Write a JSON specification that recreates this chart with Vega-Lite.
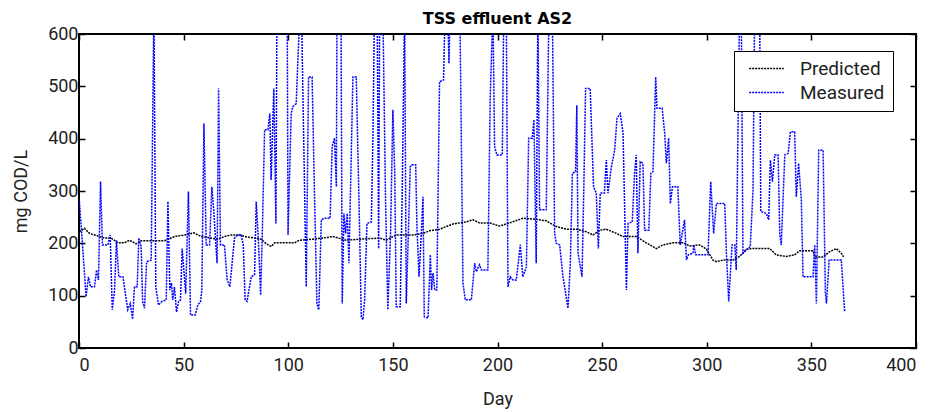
{
  "$schema": "https://vega.github.io/schema/vega-lite/v6.json",
  "width": 837,
  "height": 314,
  "autosize": "none",
  "padding": {"left": 79, "top": 34, "right": 19, "bottom": 64},
  "background": "white",
  "config": {
    "font": "Roboto",
    "view": {"stroke": "black", "strokeWidth": 2},
    "axis": {"labelFont": "Roboto", "titleFont": "Roboto", "labelFontSize": 18, "titleFontSize": 18, "titleFontWeight": "normal", "labelColor": "#222", "titleColor": "#222", "domain": false, "grid": false, "tickColor": "black", "tickSize": -6, "tickWidth": 1.5}
  },
  "title": {"text": "TSS effluent AS2", "font": "DejaVu Sans", "fontSize": 16, "fontWeight": "bold", "color": "black", "offset": -2},
  "datasets": {
    "meas": [
      {"day":0.2,"value":280},{"day":3.4,"value":98},{"day":4.5,"value":136},{"day":5.5,"value":117},{"day":7.4,"value":117},{"day":8.4,"value":149},{"day":9.3,"value":130},{"day":10.3,"value":318},{"day":11.2,"value":197},{"day":13.8,"value":197},{"day":14.9,"value":216},{"day":15.9,"value":73},{"day":17,"value":111},{"day":17.9,"value":206},{"day":19,"value":136},{"day":21,"value":136},{"day":23.3,"value":73},{"day":24.5,"value":85},{"day":25.6,"value":55},{"day":26.5,"value":117},{"day":27.8,"value":117},{"day":28.6,"value":210},{"day":29.7,"value":194},{"day":30.4,"value":89},{"day":31.3,"value":76},{"day":32.3,"value":165},{"day":34.5,"value":168},{"day":35.8,"value":650},{"day":36.7,"value":117},{"day":38,"value":82},{"day":39.6,"value":89},{"day":41.7,"value":92},{"day":42.5,"value":280},{"day":43.4,"value":111},{"day":44.2,"value":124},{"day":44.8,"value":92},{"day":45.6,"value":117},{"day":46.6,"value":69},{"day":47.6,"value":89},{"day":48.5,"value":92},{"day":49.3,"value":190},{"day":51,"value":104},{"day":52.3,"value":299},{"day":53.3,"value":63},{"day":55.5,"value":63},{"day":56.8,"value":82},{"day":58.1,"value":89},{"day":58.7,"value":111},{"day":59.7,"value":429},{"day":60.8,"value":197},{"day":62.4,"value":197},{"day":63.5,"value":308},{"day":64.5,"value":257},{"day":65.4,"value":197},{"day":66,"value":162},{"day":66.7,"value":496},{"day":67.6,"value":197},{"day":69.5,"value":197},{"day":70.8,"value":130},{"day":72.1,"value":117},{"day":74.3,"value":210},{"day":75.9,"value":216},{"day":77.5,"value":216},{"day":78.5,"value":197},{"day":79.4,"value":92},{"day":80.3,"value":89},{"day":82.3,"value":136},{"day":83.9,"value":140},{"day":84.7,"value":280},{"day":85.8,"value":200},{"day":86.8,"value":101},{"day":87.6,"value":219},{"day":88.7,"value":417},{"day":90.3,"value":417},{"day":91.2,"value":448},{"day":91.8,"value":321},{"day":93.1,"value":496},{"day":94.1,"value":238},{"day":94.6,"value":650},{"day":99.5,"value":650},{"day":99.9,"value":216},{"day":101.4,"value":448},{"day":102.2,"value":461},{"day":103.8,"value":467},{"day":104.7,"value":560},{"day":105.7,"value":650},{"day":106.3,"value":650},{"day":108.6,"value":117},{"day":109.7,"value":518},{"day":111.4,"value":518},{"day":112.6,"value":283},{"day":113.7,"value":85},{"day":114.6,"value":73},{"day":115.8,"value":245},{"day":117.4,"value":248},{"day":120,"value":248},{"day":121,"value":385},{"day":122.1,"value":401},{"day":123,"value":308},{"day":123.3,"value":650},{"day":125.2,"value":650},{"day":125.8,"value":85},{"day":126.6,"value":257},{"day":127.4,"value":219},{"day":128.2,"value":257},{"day":129,"value":162},{"day":130.9,"value":518},{"day":132.5,"value":518},{"day":133.8,"value":283},{"day":134.9,"value":60},{"day":135.7,"value":54},{"day":136.5,"value":92},{"day":137.6,"value":238},{"day":139.7,"value":241},{"day":140.5,"value":410},{"day":141.2,"value":650},{"day":142.5,"value":650},{"day":143.2,"value":190},{"day":143.7,"value":650},{"day":145.2,"value":650},{"day":146.5,"value":283},{"day":147.6,"value":73},{"day":148.9,"value":220},{"day":150,"value":455},{"day":150.9,"value":334},{"day":151.6,"value":79},{"day":153.5,"value":79},{"day":154.5,"value":308},{"day":155.6,"value":650},{"day":156.4,"value":85},{"day":157.4,"value":219},{"day":158.3,"value":346},{"day":159,"value":350},{"day":160.9,"value":350},{"day":161.5,"value":232},{"day":162.5,"value":136},{"day":163.6,"value":219},{"day":164.4,"value":289},{"day":165,"value":60},{"day":166.8,"value":57},{"day":167.9,"value":178},{"day":168.5,"value":111},{"day":169.2,"value":143},{"day":170,"value":111},{"day":171,"value":111},{"day":172.3,"value":509},{"day":174.2,"value":512},{"day":175,"value":650},{"day":176.2,"value":650},{"day":176.8,"value":544},{"day":177.4,"value":650},{"day":182,"value":650},{"day":183.5,"value":124},{"day":184.6,"value":92},{"day":187.5,"value":92},{"day":189.1,"value":162},{"day":189.9,"value":146},{"day":191.4,"value":159},{"day":192.3,"value":149},{"day":195.4,"value":149},{"day":196.5,"value":474},{"day":197.8,"value":650},{"day":198.6,"value":385},{"day":199.7,"value":369},{"day":202.3,"value":369},{"day":203,"value":650},{"day":204.2,"value":650},{"day":205,"value":117},{"day":206.1,"value":136},{"day":207.4,"value":130},{"day":209,"value":130},{"day":210.9,"value":197},{"day":212.1,"value":136},{"day":213.8,"value":155},{"day":214.9,"value":401},{"day":216.6,"value":401},{"day":217.4,"value":436},{"day":218.5,"value":162},{"day":219.3,"value":650},{"day":220.1,"value":264},{"day":223.3,"value":264},{"day":224.6,"value":650},{"day":226.2,"value":650},{"day":227.3,"value":219},{"day":228.1,"value":200},{"day":229.7,"value":197},{"day":231.3,"value":136},{"day":233.7,"value":76},{"day":234.8,"value":162},{"day":235.8,"value":334},{"day":237.3,"value":337},{"day":237.9,"value":464},{"day":238.5,"value":181},{"day":239.6,"value":155},{"day":240.4,"value":136},{"day":241.2,"value":296},{"day":242.1,"value":496},{"day":244.3,"value":496},{"day":245.9,"value":308},{"day":247.2,"value":296},{"day":248.2,"value":190},{"day":249.1,"value":296},{"day":251.1,"value":296},{"day":252,"value":359},{"day":252.8,"value":296},{"day":254.4,"value":346},{"day":256,"value":378},{"day":257.1,"value":439},{"day":258.7,"value":448},{"day":260,"value":410},{"day":261.6,"value":111},{"day":262.4,"value":238},{"day":264.4,"value":241},{"day":265.5,"value":334},{"day":266.3,"value":369},{"day":267.1,"value":181},{"day":268.2,"value":356},{"day":269.5,"value":353},{"day":270.3,"value":225},{"day":272.3,"value":225},{"day":273.3,"value":334},{"day":274.3,"value":337},{"day":275.6,"value":518},{"day":276.2,"value":458},{"day":278.7,"value":458},{"day":279.9,"value":410},{"day":280.7,"value":353},{"day":281.8,"value":401},{"day":282.6,"value":276},{"day":283.6,"value":308},{"day":286.2,"value":308},{"day":287.3,"value":197},{"day":289.4,"value":245},{"day":290.3,"value":168},{"day":291.2,"value":178},{"day":293.4,"value":181},{"day":293.8,"value":197},{"day":294.7,"value":178},{"day":300.6,"value":178},{"day":301.9,"value":318},{"day":303.3,"value":219},{"day":304.6,"value":276},{"day":308.6,"value":276},{"day":309.4,"value":181},{"day":310.5,"value":89},{"day":312.1,"value":197},{"day":313.4,"value":197},{"day":314.1,"value":149},{"day":314.9,"value":410},{"day":315.7,"value":650},{"day":316.5,"value":650},{"day":317.3,"value":181},{"day":318.9,"value":187},{"day":320.8,"value":194},{"day":322.1,"value":300},{"day":322.9,"value":650},{"day":325.3,"value":650},{"day":325.8,"value":261},{"day":328.5,"value":257},{"day":329.6,"value":245},{"day":330.4,"value":359},{"day":331.4,"value":318},{"day":332.5,"value":369},{"day":334.1,"value":369},{"day":334.9,"value":219},{"day":335.6,"value":197},{"day":337.3,"value":369},{"day":338.9,"value":372},{"day":340,"value":413},{"day":342,"value":413},{"day":342.8,"value":289},{"day":343.9,"value":353},{"day":345.2,"value":283},{"day":346,"value":136},{"day":350.8,"value":136},{"day":351.6,"value":197},{"day":352.4,"value":85},{"day":353.5,"value":378},{"day":355.6,"value":378},{"day":356.7,"value":104},{"day":357.2,"value":85},{"day":358.5,"value":168},{"day":364.3,"value":168},{"day":365.9,"value":69}
    ],
    "pred": [
      {"day":0.2,"value":222},{"day":2.6,"value":229},{"day":5,"value":219},{"day":9,"value":214},{"day":12.2,"value":210},{"day":15.4,"value":210},{"day":18.6,"value":201},{"day":21.7,"value":201},{"day":24.1,"value":206},{"day":27.3,"value":199},{"day":29.7,"value":205},{"day":40.9,"value":205},{"day":45.6,"value":213},{"day":50.4,"value":216},{"day":54.9,"value":220},{"day":58.4,"value":213},{"day":61.6,"value":211},{"day":66.4,"value":208},{"day":69.5,"value":213},{"day":72.7,"value":216},{"day":77.5,"value":216},{"day":79.1,"value":213},{"day":82.3,"value":211},{"day":87.1,"value":208},{"day":89.5,"value":199},{"day":91.9,"value":194},{"day":93.5,"value":201},{"day":103,"value":201},{"day":105.4,"value":206},{"day":111.8,"value":208},{"day":118.2,"value":211},{"day":121.3,"value":213},{"day":127.7,"value":206},{"day":134.1,"value":208},{"day":143.7,"value":210},{"day":146.8,"value":206},{"day":151.6,"value":216},{"day":159.6,"value":216},{"day":164.4,"value":219},{"day":167.5,"value":224},{"day":172.3,"value":227},{"day":178.7,"value":237},{"day":185,"value":241},{"day":188.2,"value":245},{"day":191.4,"value":239},{"day":196.2,"value":239},{"day":201,"value":233},{"day":205.8,"value":239},{"day":212.1,"value":248},{"day":218.5,"value":246},{"day":223.3,"value":243},{"day":228.1,"value":232},{"day":232.9,"value":227},{"day":237.7,"value":227},{"day":242.5,"value":222},{"day":245.6,"value":216},{"day":248.8,"value":225},{"day":252,"value":227},{"day":256.8,"value":219},{"day":260,"value":213},{"day":266.3,"value":213},{"day":271.1,"value":201},{"day":275.9,"value":190},{"day":279.1,"value":197},{"day":283.9,"value":201},{"day":288.6,"value":201},{"day":291.8,"value":195},{"day":296.6,"value":197},{"day":299.8,"value":189},{"day":303,"value":168},{"day":304.6,"value":165},{"day":307.8,"value":168},{"day":312.5,"value":168},{"day":315.7,"value":175},{"day":318.9,"value":189},{"day":322.1,"value":190},{"day":330.1,"value":190},{"day":333.2,"value":178},{"day":338,"value":175},{"day":342,"value":178},{"day":344.4,"value":186},{"day":350.8,"value":186},{"day":351.6,"value":174},{"day":355.6,"value":174},{"day":358.7,"value":184},{"day":361.9,"value":190},{"day":364.3,"value":181},{"day":365.4,"value":174}
    ]
  },
  "layer": [
    {
      "data": {"name": "pred"},
      "mark": {"type": "line", "clip": true, "strokeWidth": 1.5, "strokeDash": [2, 1]},
      "encoding": {
        "x": {"field": "day", "type": "quantitative", "scale": {"domain": [0, 400], "nice": false}, "axis": {"title": "Day", "values": [0,50,100,150,200,250,300,350,400], "labelPadding": 14, "titlePadding": 16}},
        "y": {"field": "value", "type": "quantitative", "scale": {"domain": [0, 600], "nice": false}, "axis": {"title": "mg COD/L", "values": [0,100,200,300,400,500,600], "labelPadding": 7, "titlePadding": 17}},
        "color": {"datum": "Predicted", "type": "nominal", "scale": {"domain": ["Predicted", "Measured"], "range": ["black", "#0000ff"]},
          "legend": {"title": null, "orient": "none", "legendX": 655, "legendY": 17, "fillColor": "white", "strokeColor": "black", "padding": 8, "symbolType": "M-2,0H2", "symbolSize": 300, "symbolStrokeWidth": 1.5, "symbolDash": [2, 1], "labelFont": "Roboto", "labelFontSize": 19, "labelColor": "#222", "rowPadding": 4, "labelOffset": 24, "symbolOffset": 15, "labelExpr": "datum.label + '\u00a0\u00a0\u00a0'"}}
      }
    },
    {
      "data": {"name": "meas"},
      "mark": {"type": "line", "clip": true, "strokeWidth": 1.5, "strokeDash": [2, 1]},
      "encoding": {
        "x": {"field": "day", "type": "quantitative", "axis": null},
        "y": {"field": "value", "type": "quantitative", "axis": null},
        "color": {"datum": "Measured", "type": "nominal"}
      }
    },
    {
      "data": {"name": "pred"},
      "mark": {"type": "line", "opacity": 0},
      "encoding": {
        "x": {"field": "day", "type": "quantitative", "axis": {"orient": "top", "labels": false, "title": null, "values": [0,50,100,150,200,250,300,350,400]}},
        "y": {"field": "value", "type": "quantitative", "axis": {"orient": "right", "labels": false, "title": null, "values": [0,100,200,300,400,500,600]}}
      }
    }
  ],
  "resolve": {"axis": {"x": "independent", "y": "independent"}}
}
